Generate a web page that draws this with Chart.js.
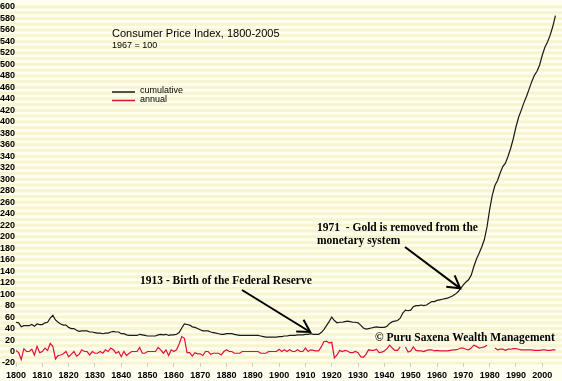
<!DOCTYPE html>
<html>
<head>
<meta charset="utf-8">
<script src="https://cdn.jsdelivr.net/npm/chart.js@4/dist/chart.umd.min.js"></script>
<style>
  html, body { margin: 0; padding: 0; background: #FFFFEF; }
  #c { display: block; }
</style>
</head>
<body>
<canvas id="c" width="562" height="381"></canvas>
<script>
// ---- DATA ----
const years = [
  1800,1801,1802,1803,1804,1805,1806,1807,1808,1809,
  1810,1811,1812,1813,1814,1815,1816,1817,1818,1819,
  1820,1821,1822,1823,1824,1825,1826,1827,1828,1829,
  1830,1831,1832,1833,1834,1835,1836,1837,1838,1839,
  1840,1841,1842,1843,1844,1845,1846,1847,1848,1849,
  1850,1851,1852,1853,1854,1855,1856,1857,1858,1859,
  1860,1861,1862,1863,1864,1865,1866,1867,1868,1869,
  1870,1871,1872,1873,1874,1875,1876,1877,1878,1879,
  1880,1881,1882,1883,1884,1885,1886,1887,1888,1889,
  1890,1891,1892,1893,1894,1895,1896,1897,1898,1899,
  1900,1901,1902,1903,1904,1905,1906,1907,1908,1909,
  1910,1911,1912,1913,1914,1915,1916,1917,1918,1919,
  1920,1921,1922,1923,1924,1925,1926,1927,1928,1929,
  1930,1931,1932,1933,1934,1935,1936,1937,1938,1939,
  1940,1941,1942,1943,1944,1945,1946,1947,1948,1949,
  1950,1951,1952,1953,1954,1955,1956,1957,1958,1959,
  1960,1961,1962,1963,1964,1965,1966,1967,1968,1969,
  1970,1971,1972,1973,1974,1975,1976,1977,1978,1979,
  1980,1981,1982,1983,1984,1985,1986,1987,1988,1989,
  1990,1991,1992,1993,1994,1995,1996,1997,1998,1999,
  2000,2001,2002,2003,2004,2005
];

const cumulative = [
  51,50,43,45,45,45,47,44,48,47,
  47,50,51,58,63,55,51,48,46,46,
  42,40,40,37,35,36,36,36,34,34,
  33,32,32,31,32,32,34,35,34,34,
  31,31,29,28,28,28,28,30,29,28,
  27,27,27,27,29,30,29,30,28,29,
  29,30,33,41,48,47,46,43,42,40,
  38,36,36,36,34,33,32,31,30,30,
  31,31,31,30,29,28,28,28,28,28,
  28,28,28,27,26,25,25,25,25,25,
  26,26,27,27,28,28,28,29,29,29,
  30,30,31,30,30,30,33,38,45,52,
  60,54,50,51,51,52,53,52,51,51,
  50,46,41,39,40,41,42,43,42,42,
  42,44,49,52,53,54,58,67,72,71,
  72,78,80,80,81,80,81,84,87,87,
  89,90,91,92,93,95,97,100,104,110,
  116,121,125,133,148,161,171,182,195,217,
  247,272,289,298,311,322,328,340,354,371,
  391,408,420,433,444,457,470,481,488,499,
  516,530,539,551,566,585
];

const annual = [
  2,-2,-14,5,0,0,4,-6,9,-2,
  0,6,2,14,9,-13,-7,-6,-4,0,
  -9,-5,0,-8,-5,3,0,0,-6,0,
  -3,-3,0,-3,3,0,6,3,-3,0,
  -9,0,-7,-3,0,0,0,7,-3,-3,
  0,0,0,0,7,3,-3,3,-7,3,
  0,3,13,26,23,-2,-2,-8,-2,-4,
  -4,-7,0,0,-5,-3,-3,-3,-6,0,
  3,0,0,-3,-3,-3,0,0,0,0,
  0,0,0,-3,-3,-3,0,0,0,0,
  4,0,3,0,3,0,0,3,0,0,
  6,0,3,2,1,1,8,17,18,15,
  16,-11,-6,2,0,2,1,-2,-2,0,
  -2,-9,-10,-5,3,2,2,4,-2,-1,
  1,5,11,6,2,2,8,null,8,-1,
  1,8,2,1,1,0,2,3,3,1,
  2,1,1,1,1,2,3,3,4,6,
  6,4,3,6,11,9,6,7,8,11,
  null,null,6,3,4,4,2,4,4,5,
  5,4,3,3,3,3,3,2,2,2,
  3,3,2,2,3,3
];

const yTicks = [-20,0,20,40,60,80,100,120,140,160,180,200,220,240,260,280,300,320,340,360,380,400,420,440,460,480,500,520,540,560,580,600];
const xTicks = [1800,1810,1820,1830,1840,1850,1860,1870,1880,1890,1900,1910,1920,1930,1940,1950,1960,1970,1980,1990,2000];

const seriesNames = ['cumulative', 'annual'];
const titleText = 'Consumer Price Index, 1800-2005';
const subtitleText = '1967 = 100';
const note1913 = '1913 - Birth of the Federal Reserve';
const note1971a = '1971  - Gold is removed from the';
const note1971b = 'monetary system';
const copyright = '\u00A9 Puru Saxena Wealth Management';

// ---- STYLE ----
const BG = '#FFFFEF';
const STRIPE = '#F8F4D0';
const BLACK = '#1a1a1a';
const RED = '#E0103A';

const bgPlugin = {
  id: 'bgStripes',
  beforeDraw(chart) {
    const ctx = chart.ctx;
    const y = chart.scales.y;
    ctx.save();
    ctx.fillStyle = BG;
    ctx.fillRect(0, 0, chart.width, chart.height);
    ctx.fillStyle = STRIPE;
    for (let v = -20; v <= 600; v += 10) {
      const py = y.getPixelForValue(v);
      ctx.fillRect(0, py - 1.5, chart.width, 3);
    }
    ctx.restore();
  }
};

function arrow(ctx, x0, y0, x1, y1) {
  ctx.beginPath();
  ctx.moveTo(x0, y0);
  ctx.lineTo(x1, y1);
  ctx.stroke();
  const ang = Math.atan2(y0 - y1, x0 - x1);
  const L = 14;
  ctx.beginPath();
  ctx.moveTo(x1 + L * Math.cos(ang - Math.PI / 6), y1 + L * Math.sin(ang - Math.PI / 6));
  ctx.lineTo(x1, y1);
  ctx.lineTo(x1 + L * Math.cos(ang + Math.PI / 6), y1 + L * Math.sin(ang + Math.PI / 6));
  ctx.stroke();
}

const annoPlugin = {
  id: 'annotations',
  afterDraw(chart) {
    const ctx = chart.ctx;
    const xs = chart.scales.x, ys = chart.scales.y;
    ctx.save();
    ctx.fillStyle = '#000';
    ctx.textBaseline = 'middle';
    ctx.textAlign = 'left';
    // title
    ctx.font = '11px "Liberation Sans", Arial, sans-serif';
    ctx.fillText(titleText, 112, 34);
    ctx.font = '9px "Liberation Sans", Arial, sans-serif';
    ctx.fillText(subtitleText, 112, 46);
    // legend
    ctx.lineWidth = 1.5;
    ctx.strokeStyle = BLACK;
    ctx.beginPath(); ctx.moveTo(112, 92); ctx.lineTo(135, 92); ctx.stroke();
    ctx.strokeStyle = RED;
    ctx.beginPath(); ctx.moveTo(112, 100.5); ctx.lineTo(135, 100.5); ctx.stroke();
    ctx.fillStyle = '#000';
    ctx.fillText(seriesNames[0], 140, 91);
    ctx.fillText(seriesNames[1], 140, 100);
    // annotations
    ctx.font = 'bold 11.5px "Liberation Serif", "Times New Roman", serif';
    ctx.fillText(note1913, 140, 281);
    ctx.fillText(note1971a, 317, 228);
    ctx.fillText(note1971b, 317, 241);
    ctx.fillText(copyright, 375, 338);
    // arrows
    ctx.strokeStyle = '#000';
    ctx.lineWidth = 2;
    arrow(ctx, 242, 290, xs.getPixelForValue(1911.8), ys.getPixelForValue(34));
    arrow(ctx, 405, 247, xs.getPixelForValue(1968.8), ys.getPixelForValue(110));
    ctx.restore();
  }
};

new Chart(document.getElementById('c'), {
  type: 'line',
  data: {
    labels: years,
    datasets: [
      {
        label: seriesNames[0],
        data: years.map((yr, i) => ({ x: yr, y: cumulative[i] })),
        borderColor: BLACK,
        borderWidth: 1.2,
        pointRadius: 0,
        tension: 0,
        fill: false
      },
      {
        label: seriesNames[1],
        data: years.map((yr, i) => ({ x: yr, y: annual[i] })),
        borderColor: RED,
        borderWidth: 1.2,
        pointRadius: 0,
        tension: 0,
        spanGaps: false,
        fill: false
      }
    ]
  },
  options: {
    responsive: false,
    animation: false,
    devicePixelRatio: 1,
    layout: { padding: { top: 7, right: 0, left: 0, bottom: 0 } },
    plugins: { legend: { display: false }, title: { display: false }, tooltip: { enabled: false } },
    scales: {
      x: {
        type: 'linear',
        min: 1800,
        max: 2007.5,
        afterBuildTicks(scale) { scale.ticks = xTicks.map(v => ({ value: v })); },
        afterFit(scale) { scale.height = 18; },
        ticks: {
          autoSkip: false,
          maxRotation: 0,
          padding: 3,
          color: '#000',
          font: { family: '"Liberation Sans", Arial, sans-serif', size: 9, weight: 'bold' },
          callback: v => String(v)
        },
        grid: { drawOnChartArea: false, tickLength: 4, color: '#cfcfcf' },
        border: { display: false }
      },
      y: {
        min: -20,
        max: 600,
        afterBuildTicks(scale) { scale.ticks = yTicks.map(v => ({ value: v })); },
        afterFit(scale) { scale.width = 16; },
        ticks: {
          autoSkip: false,
          padding: 1,
          color: '#000',
          font: { family: '"Liberation Sans", Arial, sans-serif', size: 9, weight: 'bold' }
        },
        grid: { display: false, drawTicks: false },
        border: { display: false }
      }
    }
  },
  plugins: [bgPlugin, annoPlugin]
});
</script>
</body>
</html>
